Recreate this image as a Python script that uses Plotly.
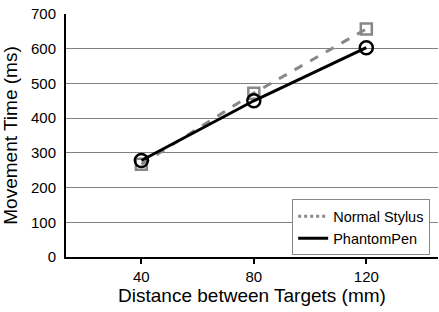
import plotly.graph_objects as go

distances = [40, 80, 120]
normal_stylus = [267, 472, 657]
phantom_pen = [278, 450, 603]
y_ticks = [0, 100, 200, 300, 400, 500, 600, 700]

gray = "#888888"
fig = go.Figure()
fig.add_trace(go.Scatter(
    x=distances, y=normal_stylus, name="Normal Stylus", mode="lines+markers",
    line=dict(color=gray, width=3, dash="dash"), showlegend=False,
    marker=dict(symbol="square-open", size=11, color=gray, line=dict(width=2.5, color=gray)),
))
fig.add_trace(go.Scatter(
    x=distances, y=phantom_pen, name="PhantomPen", mode="lines+markers",
    line=dict(color="black", width=3), showlegend=False,
    marker=dict(symbol="circle-open", size=13, color="black", line=dict(width=2.5, color="black")),
))
# legend entries (lines only, as in the reference)
fig.add_trace(go.Scatter(x=[None], y=[None], name="Normal Stylus", mode="lines",
                         line=dict(color=gray, width=3, dash="dot")))
fig.add_trace(go.Scatter(x=[None], y=[None], name="PhantomPen", mode="lines",
                         line=dict(color="black", width=3)))

font = "Liberation Sans, Arial, sans-serif"
fig.update_layout(
    width=439, height=312,
    margin=dict(l=66, r=1, t=14, b=55),
    paper_bgcolor="white", plot_bgcolor="white",
    font=dict(family=font, size=15, color="black"),
    showlegend=True,
    legend=dict(
        x=0.608, y=0.237, xanchor="left", yanchor="top",
        bgcolor="white", bordercolor=gray, borderwidth=1,
        font=dict(size=14.5, family=font), tracegroupgap=0,
        itemwidth=30,
    ),
    xaxis=dict(
        range=[13.2, 145.5], tickvals=distances, ticktext=[str(d) for d in distances],
        showgrid=False, zeroline=False, showline=True, linecolor="black", linewidth=2,
        ticks="outside", ticklen=5, tickwidth=2, tickcolor="black",
        title=dict(text="Distance between Targets (mm)", font=dict(size=19), standoff=4),
        tickfont=dict(size=15), automargin=False,
    ),
    yaxis=dict(
        range=[0, 700], tickvals=y_ticks,
        showgrid=True, gridcolor="#808080", gridwidth=1,
        zeroline=False, showline=True, linecolor="black", linewidth=2,
        ticks="", ticklabelstandoff=5,
        title=dict(text="Movement Time (ms)", font=dict(size=19), standoff=8),
        tickfont=dict(size=15), automargin=False,
    ),
)
fig.write_html("out.html", config={"displayModeBar": False},
               post_script="document.body.style.margin='0';")
